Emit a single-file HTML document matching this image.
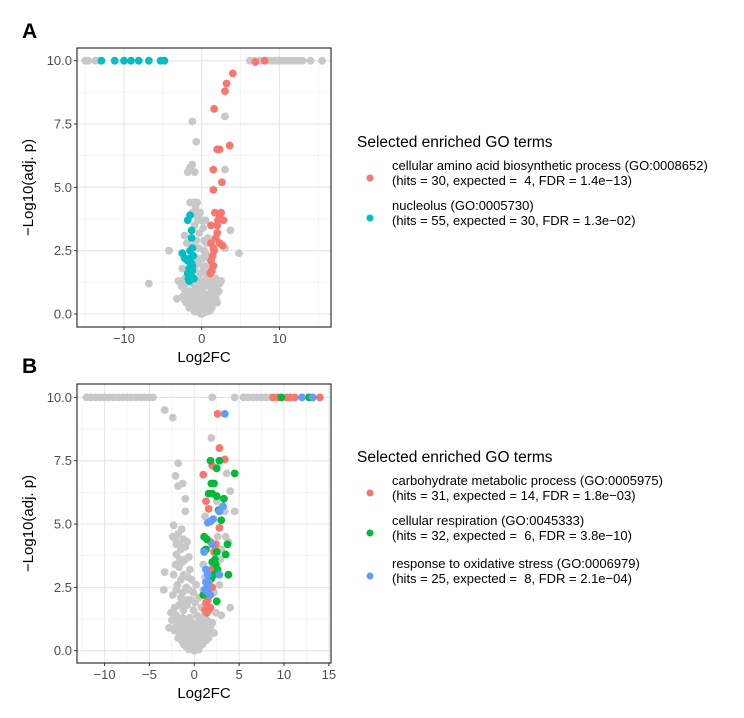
<!DOCTYPE html>
<html><head><meta charset="utf-8"><style>
body{margin:0;background:#fff;width:744px;height:713px;overflow:hidden}
svg{font-family:"Liberation Sans",Arial,sans-serif}
text{white-space:pre}
</style></head><body>
<svg id="fig" width="744" height="713"></svg>
<script>
// ---- Panel A data ----
const aGray = [[-15,10],[-14.6,10],[-13.7,10],[-13.2,10],[6.2,10],[6.8,10],[7.5,10],[8.5,10],[9,10],[9.5,10],[10,10],[10.5,10],[11,10],[11.5,10],[12,10],[12.5,10],[13,10],[14,10],[15.5,10],
[-1.2,7.6],[-0.7,6.8],[-1.5,5.8],[-1.2,5.9],[-1.8,5.6],[-0.9,5.6],[3,7.8],[3,5.7],[-1.5,4.4],[-1,4.4],[-0.8,4.2],[-1.2,4.0],[3.7,3.3],[3,2.6],[4.8,2.4],[-4.2,2.5],[-6.8,1.2],[-3.2,0.6],[-3,1.3],[2.5,1.3],
[-0.5,3.7],[0.5,3.7],[-0.3,3.2],[0.8,3.0],[-2.2,3.1],[-0.4,2.6],[0.3,2.5],[0.9,2.2],[-2.5,1.8],[-0.5,2.0],[0.4,1.9],[-2.2,1.4],[0.7,1.5],[1.8,1.4],[-2.3,1.0],[-1.6,0.9],[-0.8,1.0],[0.1,1.0],[0.9,1.1],[1.7,1.0],[2.2,0.9],
[-2.4,0.7],[-1.8,0.7],[-1.2,0.7],[-0.6,0.7],[0,0.7],[0.6,0.7],[1.2,0.7],[1.8,0.6],[-2,0.45],[-1.4,0.45],[-0.8,0.45],[-0.2,0.45],[0.4,0.45],[1,0.45],[1.6,0.45],
[-1.6,0.25],[-1,0.25],[-0.4,0.25],[0.2,0.25],[0.8,0.25],[1.3,0.25],[-0.9,0.1],[-0.3,0.05],[0.3,0.05],[0.8,0.1],[0,0],[-0.5,1.3],[0.3,1.3],[-0.2,1.6],[0.6,1.7],[-0.7,2.9],[0.2,3.4],[-0.2,4.0],[-0.6,4.4],[0.1,2.2],[-1.9,2.8],[-0.9,3.5],[0.6,2.8],[1.3,1.3],[-1.2,1.2],[1.4,0.9],[-0.3,0.9],
[-2.6,1.1],[-2.1,1.2],[-1.3,1.5],[-0.9,1.8],[-0.1,1.3],[0.5,1.2],[1.0,1.4],[1.6,1.2],[2.3,1.2],[-2.0,0.9],[-1.0,0.8],[-0.4,0.6],[0.3,0.8],[1.0,0.8],[1.9,0.8],[-2.2,0.55],[-1.5,0.6],[-0.9,0.55],[0.1,0.6],[0.8,0.55],[1.4,0.6],[2.0,0.45],
[-1.3,0.35],[-0.7,0.35],[-0.1,0.35],[0.5,0.35],[1.1,0.35],[-1.0,0.15],[-0.5,0.15],[0.1,0.15],[0.6,0.15],[1.1,0.15],[-0.6,2.2],[0.3,2.9],[0.0,3.7],[-0.7,3.9],[0.5,2.4],[0.2,1.8],[-0.4,1.0],[0.0,0.3],[-0.3,0.4],[0.9,1.8],[-1.0,2.7]];
const aTeal = [[-12.9,10],[-11.2,10],[-10,10],[-9.1,10],[-8.1,10],[-6.8,10],[-5.3,10],[-4.8,10],
[-1.8,3.7],[-1.5,3.9],[-1.3,3.3],[-1.3,3.0],[-2.5,2.4],[-2.2,2.2],[-1.2,2.6],[-1.5,2.5],[-1.8,2.1],[-1.3,2.0],[-1.6,1.8],[-1.2,1.7],[-1.8,1.6],[-1.4,1.5],[-1.0,1.4],[-1.7,1.4],[-1.2,1.9],[-1.5,2.2],[-1.6,1.3],[-1.1,2.3]];
const aRed = [[6.9,9.95],[8.1,10],[4,9.5],[3.2,9.1],[3,8.8],[1.6,8.1],[3.6,6.65],[2,6.5],[2.3,6.5],[1.5,5.7],[2.6,5.2],[1.5,4.9],[1.7,4.0],[2.3,3.9],[2.5,4.0],[2.1,3.7],[2.8,3.7],[1.2,3.5],[2.0,3.2],[1.8,3.0],[1.2,2.8],[2.3,2.8],[1.5,2.6],[2.7,2.7],[1.4,2.3],[1.2,2.1],[1.5,1.9],[1.3,1.7],[1.1,1.6],[1.6,2.5],[2.0,3.5]];
// ---- Panel B data ----
const bGray = [[-12,10],[-11.5,10],[-11,10],[-10.5,10],[-10,10],[-9.5,10],[-9,10],[-8.5,10],[-8,10],[-7.5,10],[-7,10],[-6.5,10],[-6,10],[-5.5,10],[-5,10],[-4.6,10],[2,10],[4.5,10],[5.5,10],[6,10],[6.5,10],[7,10],[7.5,10],[8,10],[8.5,10],
[-3.3,9.5],[-2.4,9.2],[1.9,8.4],[-1.8,7.4],[-2.1,6.9],[-1.8,6.5],[-1.3,6.6],[-1,6],[-1,5.5],[-2.3,4.95],[3.6,7],[4,6.3],[3.4,5.5],[4.5,5.5],[3.5,4.5],[3.8,4.3],[-3.3,3.1],[-3.4,2.4],[4,1.7],[3,1.4],[-2.8,0.9],[-2.6,1.5],
[-2.4,4.5],[-1.8,4.6],[-1.2,4.4],[-0.8,4.3],[-1.5,4.0],[-2.0,3.8],[-1.0,3.6],[-1.7,3.3],[-0.5,3.2],[-2.3,3.0],[-1.2,3.0],[-0.3,2.8],[-1.9,2.6],[-0.9,2.5],[0.2,2.6],[-2.4,2.2],[-1.5,2.1],[-0.4,2.0],[0.5,2.1],[-2.2,1.7],[-1.2,1.6],[-0.1,1.6],[0.8,1.7],[2.2,2.3],[2.8,2.6],[1.0,3.4],[2.6,4.5],[1.2,5.3],[2.5,5.9],
[-2.5,1.2],[-1.8,1.2],[-1.0,1.1],[-0.2,1.1],[0.6,1.2],[1.4,1.2],[2.0,1.1],[-2.2,0.8],[-1.5,0.8],[-0.8,0.8],[0,0.8],[0.8,0.8],[1.6,0.8],[2.2,0.7],
[-1.8,0.5],[-1.1,0.5],[-0.4,0.5],[0.3,0.5],[1,0.5],[1.6,0.5],[-1.2,0.25],[-0.5,0.25],[0.2,0.25],[0.9,0.25],[-0.6,0.05],[0,0],[0.5,0.05],[-1.4,1.9],[-0.6,2.4],[-2.0,4.2],[-1.4,4.8],[1.2,2.9],[3.0,4.0],[2.9,3.6],
[-2.0,1.0],[-1.4,1.0],[-0.6,1.0],[0.2,1.0],[1.0,1.0],[1.8,0.95],[-2.0,1.4],[-1.3,1.3],[-0.5,1.3],[0.3,1.4],[1.1,1.4],[-1.6,0.65],[-0.9,0.65],[-0.2,0.65],[0.5,0.65],[1.2,0.65],[-1.4,0.4],[-0.8,0.4],[-0.1,0.4],[0.6,0.4],[1.3,0.4],
[-0.9,0.15],[-0.3,0.15],[0.3,0.15],[-1.7,1.8],[-0.8,1.8],[0.1,1.9],[-2.0,2.4],[-1.3,2.3],[-0.1,2.3],[-1.5,2.8],[-0.7,2.9],[-2.1,3.4],[-1.3,3.5],[-0.6,3.7],[-1.7,4.2],[-1.0,4.1],[-2.1,4.4],[-1.6,3.6],[-0.8,2.0],[1.8,2.8],[2.4,1.5],[1.0,2.4]];
const bRed = [[8.8,10],[9.3,10],[10.3,10],[10.7,10],[11.2,10],[14,10],[2.6,9.35],[2.8,8.0],[3.4,7.55],[2,7.3],[1,6.95],[1.3,5.9],[1.6,5.6],[2.8,4.85],[2.0,4.2],[1.8,4.3],[1.9,3.2],[1.3,1.9],[1.6,1.6],[1.4,1.5],[1.2,1.6],[1.8,1.7],[2.0,2.5],[2.2,3.9],[1.5,2.0],[2.4,4.2]];
const bGreen = [[9.7,10],[12.8,10],[1.8,7.5],[2.8,7.5],[2.5,7.2],[4.5,7],[1.9,6.6],[2.2,6.6],[2.0,6.2],[2.5,6.1],[3.3,6.0],[2.7,5.55],[3.0,5.15],[1.1,4.5],[1.4,4.4],[3.7,4.2],[1.1,3.95],[2.5,3.9],[2.3,3.6],[3.5,3.8],[2.4,3.4],[2.0,3.5],[3.8,3.0],[2.6,3.2],[1.9,2.85],[1.0,2.2],[2.5,1.95],[1.3,4.0],[2.2,3.0],[1.6,6.2]];
const bBlue = [[12,10],[13.2,10],[3.4,9.35],[3.2,5.7],[1.5,5.05],[1.8,5.1],[2.1,5.2],[1.3,3.2],[1.5,3.0],[1.4,2.5],[1.3,2.7],[1.5,2.3],[2.8,3.0],[1.8,2.2],[1.2,2.4],[1.6,2.7],[2.0,4.2],[1.1,3.9],[2.8,5.5]];
const aXTicks = [-10,0,10], aXMinor = [-15,-5,5,15];
const bXTicks = [-10,-5,0,5,10,15], bXMinor = [-12.5,-7.5,-2.5,2.5,7.5,12.5];
const yTicks = [0,2.5,5,7.5,10], yMinor = [1.25,3.75,6.25,8.75];

const NS = "http://www.w3.org/2000/svg";
const svg = document.getElementById('fig');
function mk(tag, attrs, parent, text){const e=document.createElementNS(NS,tag);for(const k in attrs)e.setAttribute(k,attrs[k]);if(text!==undefined)e.textContent=text;(parent||svg).appendChild(e);return e;}
function fmtY(v){return v.toFixed(1);}
function fmtX(v){return v<0?'\u2212'+Math.abs(v):String(v);}

function panel(p){
  const g = mk('g',{});  
  const sx = v => p.x0px + (v - 0) * p.xs;
  const sy = v => p.y0px - v * p.ys;
  mk('rect',{x:p.L,y:p.T,width:p.R-p.L,height:p.B-p.T,fill:'#fff'},g);
  const grid = mk('g',{},g);  
  p.xMinor.forEach(v=>{const x=sx(v); if(x>p.L&&x<p.R) mk('line',{x1:x,x2:x,y1:p.T,y2:p.B,stroke:'#f0f0f0','stroke-width':0.6},grid);});
  yMinor.forEach(v=>mk('line',{x1:p.L,x2:p.R,y1:sy(v),y2:sy(v),stroke:'#f0f0f0','stroke-width':0.6},grid));
  p.xTicks.forEach(v=>mk('line',{x1:sx(v),x2:sx(v),y1:p.T,y2:p.B,stroke:'#e6e6e6','stroke-width':1.1},grid));
  yTicks.forEach(v=>mk('line',{x1:p.L,x2:p.R,y1:sy(v),y2:sy(v),stroke:'#e6e6e6','stroke-width':1.1},grid));
  const series = [[p.gray,'#c8c8c8','points-other'],...p.colored];
  series.forEach(([arr,col,nm])=>{
    const sg = mk('g',{},g);
    
    
    arr.forEach(d=>{
      const c = mk('circle',{cx:sx(d[0]),cy:sy(d[1]),r:3.9,fill:col},sg);
      
      
    });
  });
  mk('rect',{x:p.L,y:p.T,width:p.R-p.L,height:p.B-p.T,fill:'none',stroke:'#333','stroke-width':1.2},g);
  p.xTicks.forEach(v=>{const x=sx(v);mk('line',{x1:x,x2:x,y1:p.B,y2:p.B+3,stroke:'#333'},g);
    const t=mk('text',{x:x,y:p.B+16,'text-anchor':'middle','font-size':13,fill:'#4d4d4d'},g,fmtX(v));
     });
  yTicks.forEach(v=>{const y=sy(v);mk('line',{x1:p.L-3,x2:p.L,y1:y,y2:y,stroke:'#333'},g);
    const t=mk('text',{x:p.L-5,y:y+4.5,'text-anchor':'end','font-size':13,fill:'#4d4d4d'},g,fmtY(v));
     });
  const xt=mk('text',{x:(p.L+p.R)/2,y:p.B+35,'text-anchor':'middle','font-size':15,fill:'#000'},g,'Log2FC');
   
  const cy=(p.T+p.B)/2;
  const yt=mk('text',{x:33,y:cy,'text-anchor':'middle','font-size':15,fill:'#000',transform:`rotate(-90 33 ${cy})`},g,'\u2212Log10(adj. p)');
   
  const lb=mk('text',{x:22,y:p.labelY,'font-size':21,'font-weight':'bold',fill:'#000'},g,p.label);
   
  const lg=mk('g',{},g);  
  const lt=mk('text',{x:357,y:p.legTitleY,'font-size':15.5,fill:'#000'},lg,'Selected enriched GO terms');
   
  p.legend.forEach(([col,l1,l2,y])=>{
    const e=mk('g',{},lg);  
    mk('circle',{cx:370,cy:y+8,r:3.5,fill:col},e);
    mk('text',{x:392,y:y,'font-size':13,fill:'#000'},e,l1);
    mk('text',{x:392,y:y+15,'font-size':13,fill:'#000'},e,l2);
  });
}

panel({name:'panel-a',label:'A',labelY:38,L:77,R:331,T:48,B:327,x0px:201.7,xs:7.77,y0px:314,ys:25.33,
  xTicks:aXTicks,xMinor:aXMinor,gray:aGray,colored:[[aTeal,'#00bfc4','points-nucleolus'],[aRed,'#f8766d','points-amino-acid']],
  legTitleY:147,legend:[['#f8766d','cellular amino acid biosynthetic process (GO:0008652)','(hits = 30, expected =  4, FDR = 1.4e\u221213)',170],
    ['#00bfc4','nucleolus (GO:0005730)','(hits = 55, expected = 30, FDR = 1.3e\u221202)',210]]});
panel({name:'panel-b',label:'B',labelY:373,L:77,R:331,T:384,B:663,x0px:194.3,xs:8.97,y0px:650.7,ys:25.33,
  xTicks:bXTicks,xMinor:bXMinor,gray:bGray,colored:[[bRed,'#f8766d','points-carbohydrate'],[bGreen,'#00ba38','points-respiration'],[bBlue,'#619cff','points-oxidative-stress']],
  legTitleY:462,legend:[['#f8766d','carbohydrate metabolic process (GO:0005975)','(hits = 31, expected = 14, FDR = 1.8e\u221203)',485],
    ['#00ba38','cellular respiration (GO:0045333)','(hits = 32, expected =  6, FDR = 3.8e\u221210)',525],
    ['#619cff','response to oxidative stress (GO:0006979)','(hits = 25, expected =  8, FDR = 2.1e\u221204)',568]]});
</script>
</body></html>
